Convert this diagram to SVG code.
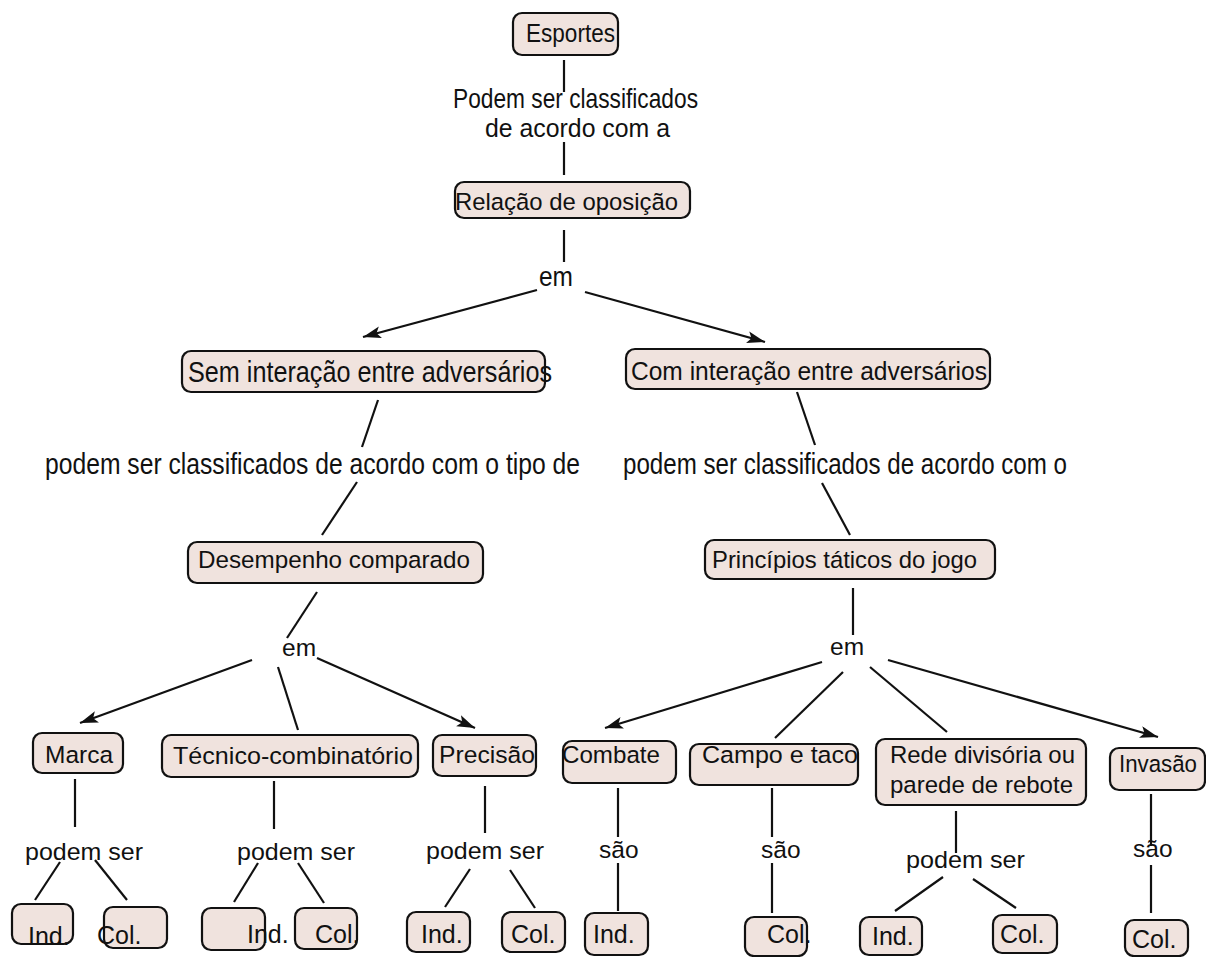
<svg xmlns="http://www.w3.org/2000/svg" width="1206" height="957" viewBox="0 0 1206 957">
<style>
.n rect{fill:#f0e3de;stroke:#111;stroke-width:2.2}
text{font-family:"Liberation Sans",Arial,sans-serif;font-size:24.5px;fill:#111}
.c line{stroke:#111;stroke-width:2.2}
.a{marker-end:url(#ah)}
.lf text{font-size:25px}
</style>
<defs>
<marker id="ah" markerUnits="userSpaceOnUse" markerWidth="20" markerHeight="14" refX="18" refY="6" orient="auto">
<path d="M0,0 L18,6 L0,12 L4,6 z" fill="#111"/>
</marker>
</defs>
<rect width="1206" height="957" fill="#fff"/>
<g class="c">
<line x1="564" y1="60" x2="564" y2="92"/>
<line x1="564" y1="142" x2="564" y2="175"/>
<line x1="564" y1="230" x2="564" y2="262"/>
<line class="a" x1="537" y1="290" x2="363" y2="337"/>
<line class="a" x1="585" y1="292" x2="765" y2="342"/>
<line x1="378" y1="400" x2="362" y2="447"/>
<line x1="357" y1="482" x2="322" y2="535"/>
<line x1="797" y1="392" x2="815" y2="445"/>
<line x1="822" y1="483" x2="850" y2="535"/>
<line x1="317" y1="592" x2="287" y2="638"/>
<line class="a" x1="252" y1="660" x2="80" y2="723"/>
<line x1="278" y1="667" x2="298" y2="730"/>
<line class="a" x1="317" y1="658" x2="475" y2="728"/>
<line x1="853" y1="588" x2="853" y2="635"/>
<line class="a" x1="822" y1="662" x2="605" y2="728"/>
<line x1="843" y1="672" x2="775" y2="738"/>
<line x1="870" y1="667" x2="947" y2="732"/>
<line class="a" x1="888" y1="660" x2="1158" y2="737"/>
<line x1="75" y1="779" x2="75" y2="827"/>
<line x1="60" y1="862" x2="35" y2="900"/>
<line x1="95" y1="860" x2="127" y2="900"/>
<line x1="274" y1="781" x2="274" y2="829"/>
<line x1="258" y1="863" x2="234" y2="902"/>
<line x1="298" y1="863" x2="324" y2="903"/>
<line x1="485" y1="786" x2="485" y2="833"/>
<line x1="470" y1="869" x2="445" y2="907"/>
<line x1="510" y1="870" x2="535" y2="908"/>
<line x1="618" y1="788" x2="618" y2="837"/>
<line x1="618" y1="863" x2="618" y2="911"/>
<line x1="772" y1="788" x2="772" y2="837"/>
<line x1="772" y1="863" x2="772" y2="913"/>
<line x1="956" y1="811" x2="956" y2="853"/>
<line x1="943" y1="877" x2="895" y2="911"/>
<line x1="973" y1="879" x2="1016" y2="908"/>
<line x1="1151" y1="794" x2="1151" y2="846"/>
<line x1="1151" y1="865" x2="1151" y2="913"/>
</g>
<g id="labels">
<text transform="translate(453,108) scale(1,1.12)" font-size="22.4" textLength="245" lengthAdjust="spacingAndGlyphs">Podem ser classificados</text>
<text transform="translate(485,137) scale(1,1.05)" font-size="24.4" textLength="185" lengthAdjust="spacingAndGlyphs">de acordo com a</text>
<text transform="translate(539,286) scale(1,1.1)" textLength="34" lengthAdjust="spacingAndGlyphs">em</text>
<text transform="translate(45,474) scale(1,1.17)" font-size="24.7" textLength="535" lengthAdjust="spacingAndGlyphs">podem ser classificados de acordo com o tipo de</text>
<text transform="translate(623,474) scale(1,1.17)" font-size="24.4" textLength="444" lengthAdjust="spacingAndGlyphs">podem ser classificados de acordo com o</text>
<text x="282" y="656">em</text>
<text x="830" y="655">em</text>
<text x="25" y="860" font-size="25" textLength="118" lengthAdjust="spacingAndGlyphs">podem ser</text>
<text x="237" y="860" font-size="25" textLength="118" lengthAdjust="spacingAndGlyphs">podem ser</text>
<text x="426" y="859" font-size="25" textLength="118" lengthAdjust="spacingAndGlyphs">podem ser</text>
<text x="906" y="868" font-size="25" textLength="119" lengthAdjust="spacingAndGlyphs">podem ser</text>
<text x="599" y="858">são</text>
<text x="761" y="858">são</text>
<text x="1133" y="857">são</text>
</g>
<g id="esportes" class="n"><rect x="513" y="13" width="105" height="42" rx="9"/><text transform="translate(526,42) scale(1,1.04)" font-size="22.5" textLength="89" lengthAdjust="spacingAndGlyphs">Esportes</text></g>
<g id="relacao" class="n"><rect x="455" y="182" width="235" height="36" rx="9"/><text x="455" y="210" font-size="24" textLength="223" lengthAdjust="spacingAndGlyphs">Relação de oposição</text></g>
<g id="sem" class="n"><rect x="182" y="351" width="363" height="41" rx="9"/><text transform="translate(188,382) scale(1,1.18)" font-size="25.2" textLength="364" lengthAdjust="spacingAndGlyphs">Sem interação entre adversários</text></g>
<g id="com" class="n"><rect x="626" y="349" width="364" height="40" rx="9"/><text transform="translate(631,380) scale(1,1.04)" font-size="24.6" textLength="356" lengthAdjust="spacingAndGlyphs">Com interação entre adversários</text></g>
<g id="desempenho" class="n"><rect x="188" y="542" width="295" height="41" rx="9"/><text x="198" y="568" font-size="24.2" textLength="272" lengthAdjust="spacingAndGlyphs">Desempenho comparado</text></g>
<g id="principios" class="n"><rect x="705" y="540" width="290" height="39" rx="9"/><text x="712" y="568" font-size="24" textLength="265" lengthAdjust="spacingAndGlyphs">Princípios táticos do jogo</text></g>
<g id="marca" class="n"><rect x="33" y="733" width="90" height="40" rx="9"/><text x="45" y="763" textLength="68" lengthAdjust="spacingAndGlyphs">Marca</text></g>
<g id="tecnico" class="n"><rect x="162" y="735" width="256" height="42" rx="9"/><text x="173" y="764" textLength="240" lengthAdjust="spacingAndGlyphs">Técnico-combinatório</text></g>
<g id="precisao" class="n"><rect x="433" y="735" width="103" height="41" rx="9"/><text x="439" y="763" font-size="24.7" textLength="96" lengthAdjust="spacingAndGlyphs">Precisão</text></g>
<g id="combate" class="n"><rect x="563" y="741" width="113" height="42" rx="9"/><text x="562" y="763" font-size="24.2" textLength="98" lengthAdjust="spacingAndGlyphs">Combate</text></g>
<g id="campo" class="n"><rect x="690" y="744" width="168" height="41" rx="9"/><text x="702" y="763" font-size="25" textLength="156" lengthAdjust="spacingAndGlyphs">Campo e taco</text></g>
<g id="rede" class="n"><rect x="876" y="739" width="210" height="66" rx="9"/><text x="890" y="763" font-size="24" textLength="185" lengthAdjust="spacingAndGlyphs">Rede divisória ou</text><text x="890" y="793" font-size="24" textLength="183" lengthAdjust="spacingAndGlyphs">parede de rebote</text></g>
<g id="invasao" class="n"><rect x="1110" y="748" width="95" height="42" rx="9"/><text x="1119" y="772" font-size="22.4" textLength="78" lengthAdjust="spacingAndGlyphs">Invasão</text></g>
<g class="lf">
<g id="ind1" class="n"><rect x="12" y="904" width="61" height="40" rx="9"/><text x="28" y="945">Ind.</text></g>
<g id="col1" class="n"><rect x="104" y="907" width="63" height="41" rx="9"/><text x="97" y="944">Col.</text></g>
<g id="ind2" class="n"><rect x="202" y="908" width="63" height="42" rx="9"/><text x="247" y="943">Ind.</text></g>
<g id="col2" class="n"><rect x="295" y="908" width="62" height="41" rx="9"/><text x="315" y="943">Col.</text></g>
<g id="ind3" class="n"><rect x="407" y="912" width="63" height="40" rx="9"/><text x="421" y="943">Ind.</text></g>
<g id="col3" class="n"><rect x="502" y="912" width="63" height="40" rx="9"/><text x="511" y="943">Col.</text></g>
<g id="ind4" class="n"><rect x="585" y="913" width="63" height="42" rx="9"/><text x="593" y="943">Ind.</text></g>
<g id="col4" class="n"><rect x="745" y="917" width="62" height="39" rx="9"/><text x="767" y="943">Col.</text></g>
<g id="ind5" class="n"><rect x="860" y="917" width="62" height="38" rx="9"/><text x="872" y="945">Ind.</text></g>
<g id="col5" class="n"><rect x="993" y="915" width="64" height="38" rx="9"/><text x="1000" y="943">Col.</text></g>
<g id="col6" class="n"><rect x="1125" y="920" width="63" height="36" rx="9"/><text x="1132" y="948">Col.</text></g>
</g>
</svg>
